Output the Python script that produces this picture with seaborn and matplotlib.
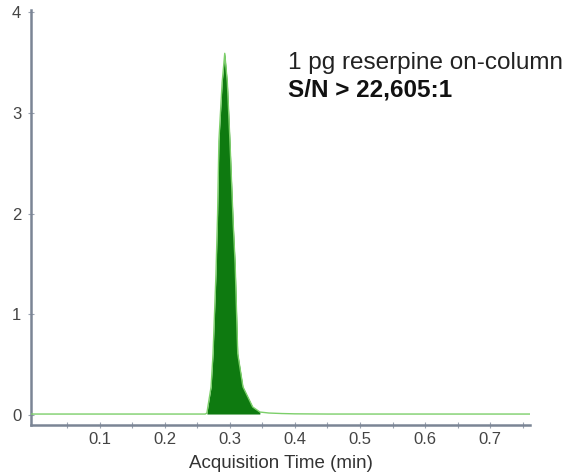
import matplotlib
matplotlib.use("Agg")
import matplotlib.pyplot as plt
import seaborn as sns
import pandas as pd
import numpy as np

# Chromatogram trace (acquisition time in min, response)
time_min = [-0.006, 0.05, 0.10, 0.15, 0.20, 0.24, 0.262, 0.2646, 0.266, 0.271, 0.274,
            0.2785, 0.2810, 0.283, 0.288, 0.292, 0.296, 0.300, 0.305, 0.308, 0.312,
            0.320, 0.335, 0.346, 0.36, 0.38, 0.40, 0.45, 0.50, 0.60, 0.70, 0.762]
response = [0.01, 0.01, 0.01, 0.01, 0.01, 0.01, 0.01, 0.02, 0.08, 0.28, 0.61,
            1.40, 2.00, 2.72, 3.30, 3.59, 3.30, 2.72, 1.90, 1.50, 0.61,
            0.28, 0.08, 0.03, 0.02, 0.015, 0.012, 0.01, 0.01, 0.01, 0.01, 0.01]
peak_start, peak_end = 0.2646, 0.346

x_ticks = [0.1, 0.2, 0.3, 0.4, 0.5, 0.6, 0.7]
y_ticks = [0, 1, 2, 3, 4]
title_line1 = "1 pg reserpine on-column"
title_line2 = "S/N > 22,605:1"
x_label = "Acquisition Time (min)"

df = pd.DataFrame({"time": time_min, "resp": response})

sns.set_theme(style="white")
plt.rcParams['font.family'] = ['Liberation Sans', 'DejaVu Sans']

fig = plt.figure(figsize=(5.8, 4.75), dpi=100)
ax = fig.add_axes([0.0534, 0.105, 0.861, 0.874])

mask = (df["time"] >= peak_start) & (df["time"] <= peak_end)
ax.fill_between(df["time"][mask], 0.01, df["resp"][mask], color="#0e7a10", linewidth=0, zorder=2)
sns.lineplot(data=df, x="time", y="resp", ax=ax, color="#7ccf6a", linewidth=1.0, zorder=3)

ax.set_xlim(-0.006, 0.762)
ax.set_ylim(-0.1, 4.02)
ax.set_xticks(x_ticks)
ax.set_xticklabels([f"{t:.1f}" for t in x_ticks])
ax.set_xticks(np.arange(0.05, 0.76, 0.1), minor=True)
ax.set_yticks(y_ticks)
ax.set_yticklabels([str(t) for t in y_ticks])

for s in ["top", "right"]:
    ax.spines[s].set_visible(False)
for s in ["left", "bottom"]:
    ax.spines[s].set_color("#7b8595")
    ax.spines[s].set_linewidth(1.8)

ax.tick_params(axis="both", which="both", direction="inout", length=4, width=0.8,
               color="#9aa3b0", labelsize=12, labelcolor="#444444")
ax.tick_params(axis="x", which="both", bottom=True, pad=3)
ax.tick_params(axis="y", which="both", left=True, pad=5)

ax.set_xlabel(x_label, fontsize=13.5, color="#333333", labelpad=6)
ax.set_ylabel("")

ax.text(0.389, 3.49, title_line1, fontsize=17.5, color="#222222", ha="left", va="center")
ax.text(0.389, 3.23, title_line2, fontsize=17.5, color="#111111", fontweight="bold",
        ha="left", va="center")

fig.savefig("out.png", dpi=100)
